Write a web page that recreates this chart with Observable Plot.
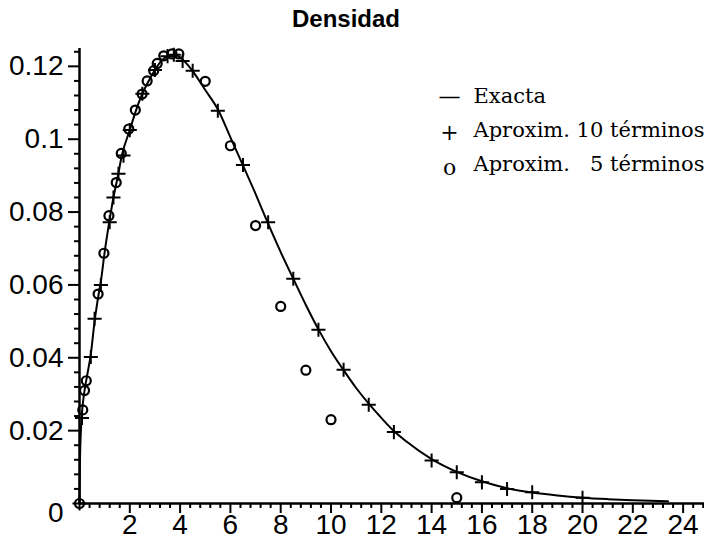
<!DOCTYPE html>
<html><head><meta charset="utf-8">
<script src="https://cdn.jsdelivr.net/npm/d3@7"></script>
<script src="https://cdn.jsdelivr.net/npm/@observablehq/plot@0.6"></script>
<style>body{margin:0;background:#fff;}</style>
</head><body><div id="chart"></div>
<script>
const title = "Densidad";
const legendSymbols = ["—", "+", "o"];
const legendLabels = ["Exacta", "Aproxim. 10 términos", "Aproxim. \u20075 términos"];

const exactX = [0, 0.02, 0.05, 0.1, 0.2, 0.3, 0.45, 0.6, 0.75, 0.85, 1.0, 1.2, 1.35, 1.5, 1.7, 2.0, 2.25, 2.5, 2.75, 3.0, 3.25, 3.5, 3.75, 4.0, 4.25, 4.5, 5.0, 5.5, 6.0, 6.5, 7.0, 7.5, 8.0, 8.5, 9.0, 9.5, 10.0, 10.5, 11.0, 11.5, 12.0, 12.5, 13.0, 14.0, 15.0, 16.0, 17.0, 18.0, 19.0, 20.0, 21.0, 22.0, 23.4];
const exactY = [0, 0.012, 0.019, 0.025, 0.031, 0.035, 0.041, 0.050, 0.057, 0.061, 0.069, 0.078, 0.084, 0.089, 0.096, 0.1025, 0.108, 0.1125, 0.116, 0.119, 0.1215, 0.1228, 0.1232, 0.1225, 0.1208, 0.1187, 0.1135, 0.1082, 0.1005, 0.0928, 0.085, 0.0768, 0.069, 0.0617, 0.0545, 0.0478, 0.0418, 0.0366, 0.0317, 0.0274, 0.0235, 0.0199, 0.017, 0.0122, 0.0087, 0.0061, 0.0042, 0.003, 0.0022, 0.0016, 0.0012, 0.0009, 0.0006];

const aprox10X = [0, 0.1, 0.45, 0.6, 0.85, 1.2, 1.35, 1.55, 1.75, 2.0, 2.5, 3.0, 3.5, 3.75, 4.1, 4.5, 5.5, 6.5, 7.5, 8.5, 9.5, 10.5, 11.5, 12.5, 14, 15, 16, 17, 18, 20];
const aprox10Y = [0, 0.0235, 0.0402, 0.0507, 0.0600, 0.0772, 0.0840, 0.0905, 0.0955, 0.1025, 0.1125, 0.119, 0.1228, 0.1232, 0.1215, 0.1188, 0.1078, 0.0929, 0.0772, 0.0617, 0.0477, 0.0367, 0.0271, 0.0196, 0.0118, 0.0086, 0.0058, 0.0040, 0.0031, 0.0016];

const aprox5X = [0, 0.13, 0.2, 0.27, 0.74, 0.97, 1.17, 1.46, 1.66, 1.96, 2.22, 2.49, 2.69, 2.95, 3.09, 3.35, 3.68, 3.95, 5, 6, 7, 8, 9, 10, 15];
const aprox5Y = [0, 0.0257, 0.031, 0.0337, 0.0575, 0.0687, 0.079, 0.0881, 0.0961, 0.1028, 0.108, 0.1124, 0.116, 0.1188, 0.1208, 0.1229, 0.1234, 0.1234, 0.1159, 0.0982, 0.0763, 0.0541, 0.0366, 0.023, 0.0016];

const xMajorTicks = [2, 4, 6, 8, 10, 12, 14, 16, 18, 20, 22, 24];
const xMinorTicks = d3.range(0.4, 24.81, 0.4).filter(v => Math.abs(v / 2 - Math.round(v / 2)) > 0.01);
const yMajorTicks = [0.02, 0.04, 0.06, 0.08, 0.1, 0.12];
const yMajorLabels = ["0.02", "0.04", "0.06", "0.08", "0.1", "0.12"];
const yMinorTicks = d3.range(0.004, 0.1249, 0.004).filter(v => Math.abs(v / 0.02 - Math.round(v / 0.02)) > 0.01);
const yZeroLabel = [{y: 0, label: "0"}];

const exact = exactX.map((x, i) => ({x, y: exactY[i]}));
const aprox10 = aprox10X.map((x, i) => ({x, y: aprox10Y[i]}));
const aprox5 = aprox5X.map((x, i) => ({x, y: aprox5Y[i]}));

const num = "Liberation Sans, Arial, sans-serif";
const chart = Plot.plot({
  width: 704, height: 540,
  marginLeft: 79, marginRight: 0, marginTop: 48, marginBottom: 37,
  style: {fontFamily: num, background: "#fff", color: "#000"},
  x: {domain: [0, 24.85]},
  y: {domain: [0, 0.1249]},
  marks: [
    Plot.axisY({ticks: yMinorTicks, tickSize: 5, fill: "none", strokeWidth: 2, label: null}),
    Plot.axisY({ticks: yMajorTicks, tickSize: 11, tickPadding: 5, strokeWidth: 2, fontSize: 28, fontFamily: num,
      tickFormat: d => yMajorLabels[yMajorTicks.findIndex(t => Math.abs(t - d) < 1e-9)], label: null}),
    Plot.text(yZeroLabel, {y: "y", text: "label", frameAnchor: "left", dx: -16, dy: 10, textAnchor: "end", fontSize: 28, fontFamily: num}),
    Plot.axisX({ticks: xMinorTicks, tickSize: 5, fill: "none", strokeWidth: 2, label: null}),
    Plot.axisX({ticks: xMajorTicks, tickSize: 10, tickPadding: 1, strokeWidth: 2, fontSize: 28, fontFamily: num, tickFormat: d => String(d), label: null}),
    Plot.ruleY([0], {strokeWidth: 2.5}),
    Plot.ruleX([0], {strokeWidth: 2.5}),
    Plot.line(exact, {x: "x", y: "y", strokeWidth: 2, curve: "monotone-x"}),
    Plot.dot(aprox10, {x: "x", y: "y", symbol: "plus", r: 4.6, stroke: "black", strokeWidth: 2}),
    Plot.dot(aprox5, {x: "x", y: "y", symbol: "circle", r: 4.5, stroke: "black", strokeWidth: 2.2, fill: "none"}),
    Plot.text([legendSymbols.join("\n")], {text: d => d, frameAnchor: "top-left", dx: 370, dy: 31, textAnchor: "middle", lineAnchor: "top", lineHeight: 1.6, fontFamily: "DejaVu Serif", fontSize: 22, fill: "black"}),
    Plot.text([legendLabels.join("\n")], {text: d => d, frameAnchor: "top-left", dx: 394, dy: 31, textAnchor: "start", lineAnchor: "top", lineHeight: 1.6, fontFamily: "DejaVu Serif", fontSize: 21, fill: "black"}),
    Plot.text([title], {text: d => d, frameAnchor: "top", dx: -46, dy: -39, lineAnchor: "top", fontWeight: "bold", fontSize: 24, fontFamily: num})
  ]
});
document.getElementById("chart").append(chart);
</script>
</body></html>
